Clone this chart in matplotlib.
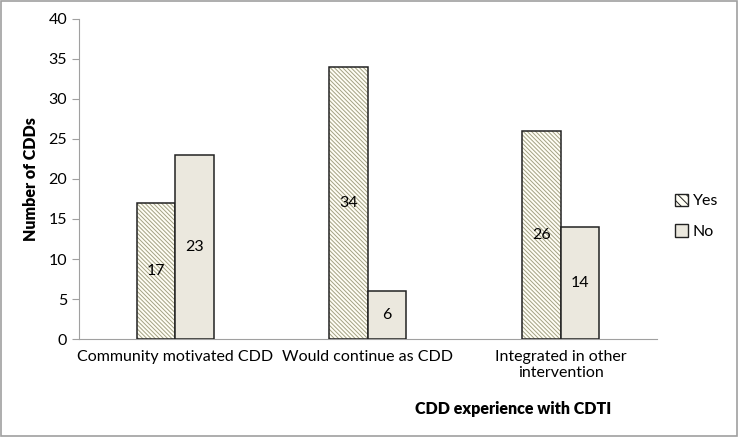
import numpy as np
import matplotlib.pyplot as plt
from matplotlib.patches import Rectangle

# Datos del grafico
categorias = ['Community motivated CDD', 'Would continue as CDD', 'Integrated in other\nintervention']
yes_vals = [17, 34, 26]
no_vals = [23, 6, 14]

plt.rcParams['font.family'] = ['Lato', 'DejaVu Sans']
plt.rcParams['hatch.linewidth'] = 0.7

fig = plt.figure(figsize=(7.38, 4.37), dpi=100)
ax = fig.add_axes([0.107, 0.224, 0.783, 0.733])

x = np.arange(len(categorias))
w = 0.2
rayado = '\\' * 8

# Barras "Yes": relleno con rayado y borde negro aparte
ax.bar(x - w / 2, yes_vals, w, color='#fffef5', edgecolor='#a3a183',
       hatch=rayado, linewidth=0, zorder=2)
ax.bar(x - w / 2, yes_vals, w, fill=False, edgecolor='#222222', linewidth=1.1, zorder=3)
ax.bar(x + w / 2, no_vals, w, color='#ebe8de', edgecolor='#222222', linewidth=1.1, zorder=3)

for xi, v in zip(x, yes_vals):
    ax.text(xi - w / 2, v / 2, str(v), ha='center', va='center', fontsize=11.5, zorder=4)
for xi, v in zip(x, no_vals):
    ax.text(xi + w / 2, v / 2, str(v), ha='center', va='center', fontsize=11.5, zorder=4)

ax.set_xlim(-0.5, len(categorias) - 0.5)
ax.set_ylim(0, 40)
ax.set_yticks(range(0, 41, 5))
ax.set_xticks(x)
ax.set_xticklabels(categorias, fontsize=11.5)
ax.tick_params(axis='x', length=0, pad=8)
ax.tick_params(axis='y', labelsize=11.5, color='#a0a0a0', length=5)

for s in ['top', 'right']:
    ax.spines[s].set_visible(False)
for s in ['left', 'bottom']:
    ax.spines[s].set_color('#a0a0a0')

ax.set_ylabel('Number of CDDs', fontsize=11.5, fontweight='heavy', labelpad=7)
fig.text(0.695, 0.063, 'CDD experience with CDTI', ha='center', va='center',
         fontsize=11.5, fontweight='heavy')

# Leyenda manual
h_yes = Rectangle((0, 0), 1, 1, facecolor='#fffef5', edgecolor='#222222', hatch='\\\\\\\\')
h_no = Rectangle((0, 0), 1, 1, facecolor='#ebe8de', edgecolor='#222222')
fig.legend([h_yes, h_no], ['Yes', 'No'], loc='center left', bbox_to_anchor=(0.895, 0.505),
           frameon=False, fontsize=11.5, handlelength=0.8, handleheight=0.8,
           handletextpad=0.3, labelspacing=1.0)

# Borde de la figura
fig.patches.append(Rectangle((0.001, 0.002), 0.998, 0.996, transform=fig.transFigure,
                             fill=False, edgecolor='#a0a0a0', linewidth=1.2))

plt.savefig('out.png', dpi=100)
plt.close()
